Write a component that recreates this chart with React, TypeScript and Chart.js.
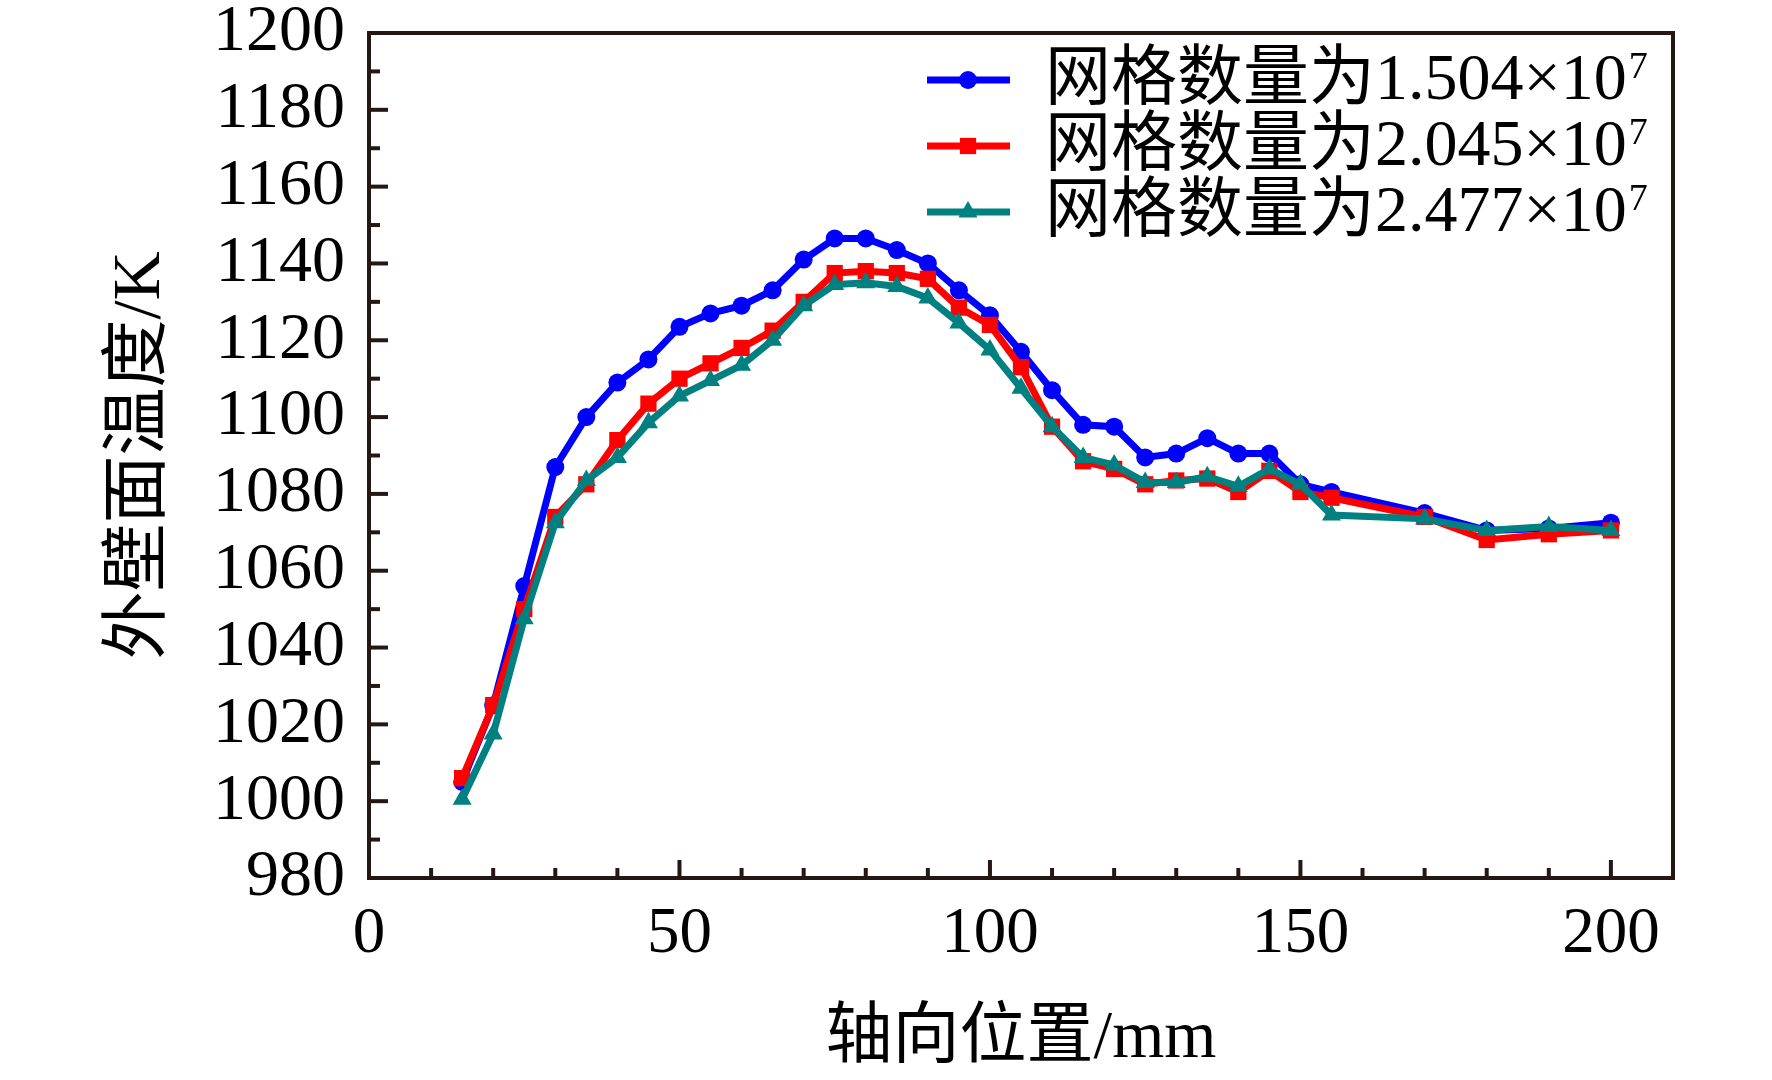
import { useEffect, useRef } from 'react';
import { Chart, registerables } from 'chart.js';
import { drawPoint } from 'chart.js/helpers';

Chart.register(...registerables);

const SERIF = '"Liberation Serif", "Noto Sans CJK SC", serif';
const AXIS_COLOR = '#231815';

// axial position, mm
const positions = [
  15, 20, 25, 30, 35, 40, 45, 50, 55, 60, 65, 70, 75, 80, 85, 90, 95, 100,
  105, 110, 115, 120, 125, 130, 135, 140, 145, 150, 155, 170, 180, 190, 200,
];

// outer wall temperature, K
const temps1504 = [
  1005, 1025, 1056, 1087, 1100, 1109, 1115, 1123.5, 1127, 1129, 1133, 1141,
  1146.5, 1146.5, 1143.5, 1140, 1133, 1126.5, 1117, 1107, 1098, 1097.5,
  1089.5, 1090.5, 1094.5, 1090.5, 1090.5, 1082.5, 1080.5, 1075, 1070.5, 1071,
  1072.5,
];
const temps2045 = [
  1006, 1025, 1050, 1074, 1082.5, 1094, 1103.5, 1110, 1114, 1118, 1122.5,
  1130, 1137.5, 1138, 1137.5, 1136, 1128.5, 1124, 1113, 1097.5, 1088.5,
  1086.5, 1082.5, 1083.5, 1084, 1080.5, 1086, 1080.5, 1079, 1074, 1068,
  1069.5, 1070.5,
];
const temps2477 = [
  1000.5, 1017.5, 1047.5, 1072.5, 1083.5, 1089.5, 1098.5, 1105.5, 1109.5,
  1113.5, 1120, 1129, 1134.5, 1135, 1134, 1131, 1124.5, 1117.5, 1107.5,
  1097.5, 1089.5, 1087.5, 1083, 1083, 1084.5, 1082, 1086.5, 1082.5, 1074.5,
  1073.5, 1070.5, 1071.5, 1070.5,
];

const meshCounts = ['1.504', '2.045', '2.477'];
const seriesColors = ['#0000ff', '#ff0000', '#008080'];
const pointStyles = ['circle', 'rect', 'triangle'];
const pointRadii = [9, 11.5, 11];

function toPoints(ys: number[]) {
  return ys.map((y, i) => ({ x: positions[i], y }));
}

// box frame + inward ticks
const framePlugin = {
  id: 'frame',
  beforeDatasetsDraw(chart: any) {
    const { ctx, chartArea: a, scales } = chart;
    ctx.save();
    ctx.strokeStyle = AXIS_COLOR;
    ctx.lineWidth = 4;
    ctx.lineCap = 'square';
    ctx.strokeRect(a.left, a.top, a.right - a.left, a.bottom - a.top);
    ctx.lineCap = 'butt';
    for (const t of scales.x.ticks) {
      if (t.value <= 0 || t.value >= 210) continue;
      const px = scales.x.getPixelForValue(t.value);
      const len = t.value % 50 === 0 ? 18 : 10;
      ctx.beginPath();
      ctx.moveTo(px, a.bottom);
      ctx.lineTo(px, a.bottom - len);
      ctx.stroke();
    }
    for (const t of scales.y.ticks) {
      if (t.value <= 980 || t.value >= 1200) continue;
      const py = scales.y.getPixelForValue(t.value);
      const len = t.value % 20 === 0 ? 19 : 11;
      ctx.beginPath();
      ctx.moveTo(a.left, py);
      ctx.lineTo(a.left + len, py);
      ctx.stroke();
    }
    ctx.restore();
  },
};

const legendPlugin = {
  id: 'meshLegend',
  afterDraw(chart: any) {
    const { ctx } = chart;
    const rowY = [80, 146, 212];
    ctx.save();
    meshCounts.forEach((count, i) => {
      const y = rowY[i];
      ctx.strokeStyle = seriesColors[i];
      ctx.fillStyle = seriesColors[i];
      ctx.lineWidth = 7;
      ctx.beginPath();
      ctx.moveTo(927, y);
      ctx.lineTo(1010, y);
      ctx.stroke();
      drawPoint(ctx, { pointStyle: pointStyles[i], radius: pointRadii[i], rotation: 0, borderWidth: 0 } as any, 968, y);

      ctx.fillStyle = '#000';
      ctx.textBaseline = 'middle';
      ctx.textAlign = 'left';
      ctx.font = `66px ${SERIF}`;
      const label = `网格数量为${count}×10`;
      ctx.fillText(label, 1045, y + 2);
      const w = ctx.measureText(label).width;
      ctx.font = `38px ${SERIF}`;
      ctx.textBaseline = 'alphabetic';
      ctx.fillText('7', 1045 + w + 2, y - 2);
    });
    ctx.restore();
  },
};

export default function App() {
  const canvasRef = useRef<HTMLCanvasElement>(null);
  const chartRef = useRef<Chart | null>(null);

  useEffect(() => {
    if (!canvasRef.current) return;
    const series = [temps1504, temps2045, temps2477];
    chartRef.current = new Chart(canvasRef.current, {
      type: 'line',
      data: {
        datasets: series.map((ys, i) => ({
          label: `网格数量为${meshCounts[i]}×10^7`,
          data: toPoints(ys),
          borderColor: seriesColors[i],
          backgroundColor: seriesColors[i],
          borderWidth: 7,
          pointStyle: pointStyles[i] as any,
          pointRadius: pointRadii[i],
          pointBorderWidth: 0,
          pointBackgroundColor: seriesColors[i],
          tension: 0,
          order: 2 - i,
        })),
      },
      options: {
        responsive: false,
        devicePixelRatio: 1,
        animation: false,
        layout: { padding: { top: 0, right: 99, left: 0, bottom: 0 } },
        plugins: {
          legend: { display: false },
          tooltip: { enabled: false },
        },
        scales: {
          x: {
            type: 'linear',
            min: 0,
            max: 210,
            afterFit: (s: any) => { s.height = 202; },
            grid: { display: false, drawTicks: false },
            border: { display: false },
            ticks: {
              stepSize: 10,
              autoSkip: false,
              maxRotation: 0,
              padding: 18,
              color: '#000',
              font: { family: SERIF, size: 65 },
              callback: (v: any) => (Number(v) % 50 === 0 ? String(v) : ''),
            },
            title: {
              display: true,
              text: '轴向位置/mm',
              color: '#000',
              font: { family: SERIF, size: 67 },
              padding: { top: 0, bottom: 0 },
            },
          },
          y: {
            min: 980,
            max: 1200,
            afterFit: (s: any) => { s.width = 369; },
            // invisible tick marks give the label gap without adding top padding
            grid: { display: true, drawOnChartArea: false, drawTicks: true, tickLength: 24, color: 'rgba(0,0,0,0)' },
            border: { display: false },
            ticks: {
              stepSize: 10,
              autoSkip: false,
              padding: 0,
              color: '#000',
              font: { family: SERIF, size: 66, lineHeight: 1.0 },
              callback: (v: any) => (Number(v) % 20 === 0 ? String(v) : ''),
            },
            title: {
              display: true,
              text: '外壁面温度/K',
              color: '#000',
              font: { family: SERIF, size: 68 },
              padding: { top: 100, bottom: 0 },
            },
          },
        },
      },
      plugins: [framePlugin, legendPlugin],
    });
    return () => {
      chartRef.current?.destroy();
      chartRef.current = null;
    };
  }, []);

  return (
    <div style={{ position: 'absolute', left: 0, top: 0, width: 1772, height: 1080, background: '#fff' }}>
      <canvas ref={canvasRef} width={1772} height={1080} />
    </div>
  );
}
